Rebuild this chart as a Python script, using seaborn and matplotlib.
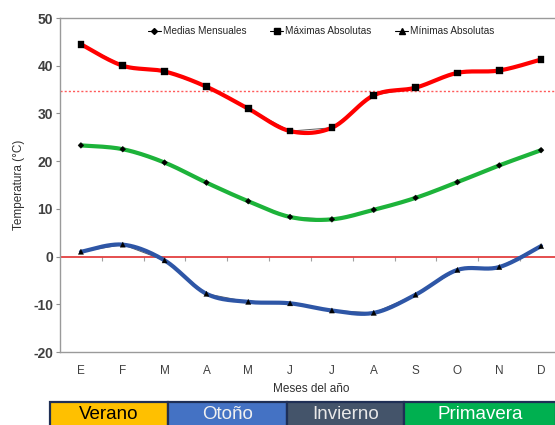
import numpy as np
import pandas as pd
import matplotlib
matplotlib.use("Agg")
import matplotlib.pyplot as plt
import seaborn as sns
from matplotlib.lines import Line2D

meses = ['E', 'F', 'M', 'A', 'M', 'J', 'J', 'A', 'S', 'O', 'N', 'D']
maximas = [44.5, 40.0, 38.8, 35.6, 31.0, 26.3, 27.0, 33.8, 35.4, 38.5, 39.0, 41.3]
medias = [23.3, 22.5, 19.7, 15.5, 11.6, 8.3, 7.8, 9.8, 12.3, 15.6, 19.1, 22.3]
minimas = [1.0, 2.5, -0.8, -7.8, -9.5, -9.8, -11.3, -11.8, -8.0, -2.8, -2.2, 2.2]
umbral = 34.7
estaciones = ['Verano', 'Otoño', 'Invierno', 'Primavera']

series = {
    'Medias Mensuales': (medias, '#1DB33A', 'D', 9),
    'Máximas Absolutas': (maximas, '#FF0000', 's', 22),
    'Mínimas Absolutas': (minimas, '#2E56A6', '^', 14),
}


def suave(x, y, n=24):
    # curva tipo "linea suavizada" de Excel (Catmull-Rom -> Bezier)
    p = np.column_stack([x, y]).astype(float)
    p = np.vstack([p[0], p, p[-1]])
    t = np.linspace(0, 1, n)[:, None]
    out = []
    for i in range(1, len(p) - 2):
        p0, p1, p2, p3 = p[i - 1], p[i], p[i + 1], p[i + 2]
        b1 = p1 + (p2 - p0) / 6
        b2 = p2 - (p3 - p1) / 6
        seg = ((1 - t) ** 3) * p1 + 3 * ((1 - t) ** 2) * t * b1 + 3 * (1 - t) * t ** 2 * b2 + t ** 3 * p2
        out.append(seg)
    c = np.vstack(out)
    return c[:, 0], c[:, 1]


sns.set_style('white')
plt.rcParams['font.family'] = ['Liberation Sans', 'DejaVu Sans']
plt.rcParams['axes.unicode_minus'] = False

pos = np.arange(len(meses))
filas = []
for nombre, (vals, col, mk, ms) in series.items():
    for i, v in enumerate(vals):
        filas.append({'pos': i, 'temp': v, 'serie': nombre})
df = pd.DataFrame(filas)

fig = plt.figure(figsize=(5.55, 4.25), dpi=100)
ax = fig.add_axes([60 / 555, 1 - 352 / 425, 502 / 555, 334 / 425])

# lineas finas rectas entre marcadores
sns.lineplot(data=df, x='pos', y='temp', hue='serie', palette=['#606060'] * 3,
             lw=0.7, legend=False, ax=ax, zorder=2, estimator=None)

# lineas gruesas suavizadas
for nombre, (vals, col, mk, ms) in series.items():
    xs, ys = suave(pos, vals)
    ax.plot(xs, ys, color=col, lw=3.0, zorder=3, solid_capstyle='round')

# marcadores
sns.scatterplot(data=df, x='pos', y='temp', style='serie',
                markers={k: v[2] for k, v in series.items()},
                size='serie', sizes={k: v[3] for k, v in series.items()},
                color='black', edgecolor='black', legend=False, ax=ax, zorder=4)

ax.axhline(0, color='#E03030', lw=1.2, zorder=1)
ax.axhline(umbral, color='#FF5A5A', lw=1.0, ls=(0, (1.5, 1.5)), zorder=1)

ax.set_xlim(-0.5, len(meses) - 0.5)
ax.set_ylim(-20, 50)
ax.set_yticks(range(-20, 51, 10))
ax.set_xticks(pos)
ax.set_xticklabels(meses)
ax.tick_params(axis='x', length=0, pad=9, labelsize=8.5, labelcolor='#404040')
ax.tick_params(axis='y', length=3, width=0.8, color='#909090', pad=2,
               labelsize=10, labelcolor='#404040', left=True)
for t in ax.get_yticklabels():
    t.set_fontweight('bold')
for s in ['left', 'bottom', 'top']:
    ax.spines[s].set_color('#9A9A9A')
    ax.spines[s].set_linewidth(1.0)
ax.spines['right'].set_visible(False)

# marcas del eje horizontal sobre el cero
sec = ax.secondary_xaxis(20 / 70)
sec.set_xticks(pos[:-1] + 0.5)
sec.set_xticklabels([])
sec.tick_params(direction='out', length=3, color='#A0A0A0', width=0.8)
sec.spines['bottom'].set_visible(False)

ax.set_xlabel('Meses del año', fontsize=8.5, color='#303030', labelpad=5,
              family=['Liberation Sans Narrow', 'Liberation Sans'])
ax.set_ylabel('Temperatura (°C)', fontsize=8.5, color='#303030', labelpad=6)

handles = [Line2D([0], [0], color='black', lw=0.8, marker=v[2],
                  markersize=np.sqrt(v[3]), label=k) for k, v in series.items()]
ax.legend(handles=handles, loc='upper center', bbox_to_anchor=(0.52, 1.0), ncol=3,
          frameon=False, fontsize=7.2, handlelength=1.3, handletextpad=0.2,
          columnspacing=2.4, borderaxespad=0.4)

# banda de estaciones
band = fig.add_axes([0, 0, 1, 24 / 425])
band.set_xlim(0, 555)
band.set_ylim(0, 24)
band.axis('off')
bordes = [50, 168, 287, 404, 556]
fondos = ['#FFC000', '#4472C4', '#44546A', '#00B050']
letras = ['black', '#F0F0F0', '#E8E8E8', 'white']
for i, est in enumerate(estaciones):
    x0, x1 = bordes[i], bordes[i + 1]
    band.add_patch(plt.Rectangle((x0, -3), x1 - x0, 26.5, facecolor=fondos[i],
                                 edgecolor='#1F2F55', lw=1.6, clip_on=False))
    band.text((x0 + x1) / 2, 10.5, est, ha='center', va='center', fontsize=13.5,
              color=letras[i])

fig.savefig('out.png', dpi=100)
